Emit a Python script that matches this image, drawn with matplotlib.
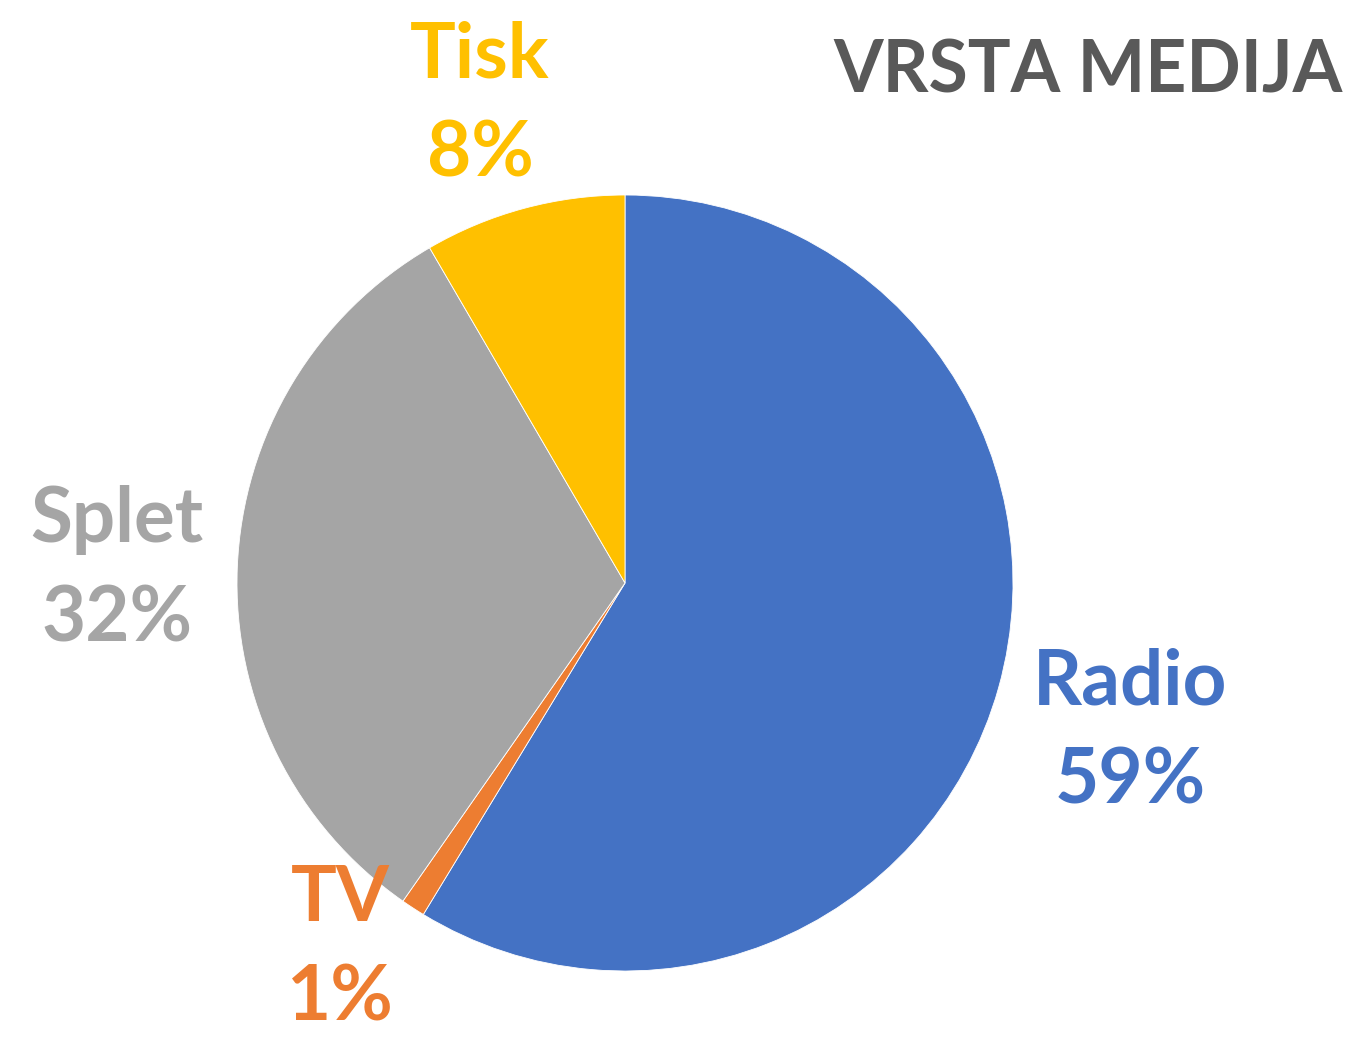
import matplotlib.pyplot as plt

# vrsta medija - delež objav
labels = ["Radio", "TV", "Splet", "Tisk"]
values = [58.7, 1.0, 31.9, 8.4]
colors = ["#4472C4", "#ED7D31", "#A5A5A5", "#FFC000"]
# sredina napisa v pikslih slike
label_px = [(1130, 732), (340, 949), (117, 570), (480, 105)]

W, H = 1353, 1038
cx, cy, r = 625, 583, 388

fig = plt.figure(figsize=(W / 100, H / 100), dpi=100)
ax = fig.add_axes([(cx - r) / W, (H - cy - r) / H, 2 * r / W, 2 * r / H])

ax.pie(values, colors=colors, startangle=90, counterclock=False, radius=1,
       wedgeprops=dict(edgecolor="white", linewidth=0.6))
ax.set_xlim(-1, 1)
ax.set_ylim(-1, 1)
ax.set_aspect("equal")
ax.axis("off")

total = sum(values)
for lab, val, col, (px, py) in zip(labels, values, colors, label_px):
    x = (px - cx) / r
    y = (cy - py) / r
    ax.text(x, y, f"{lab}\n{round(val / total * 100)}%", color=col,
            fontsize=55, fontweight="bold", family="Lato",
            ha="center", va="center", linespacing=1.52, clip_on=False)

fig.text(1343 / W, 1 - 72 / H, "VRSTA MEDIJA", color="#595959",
         fontsize=51.5, fontweight="bold", family="Lato",
         ha="right", va="center")

fig.savefig("out.png", dpi=100)
